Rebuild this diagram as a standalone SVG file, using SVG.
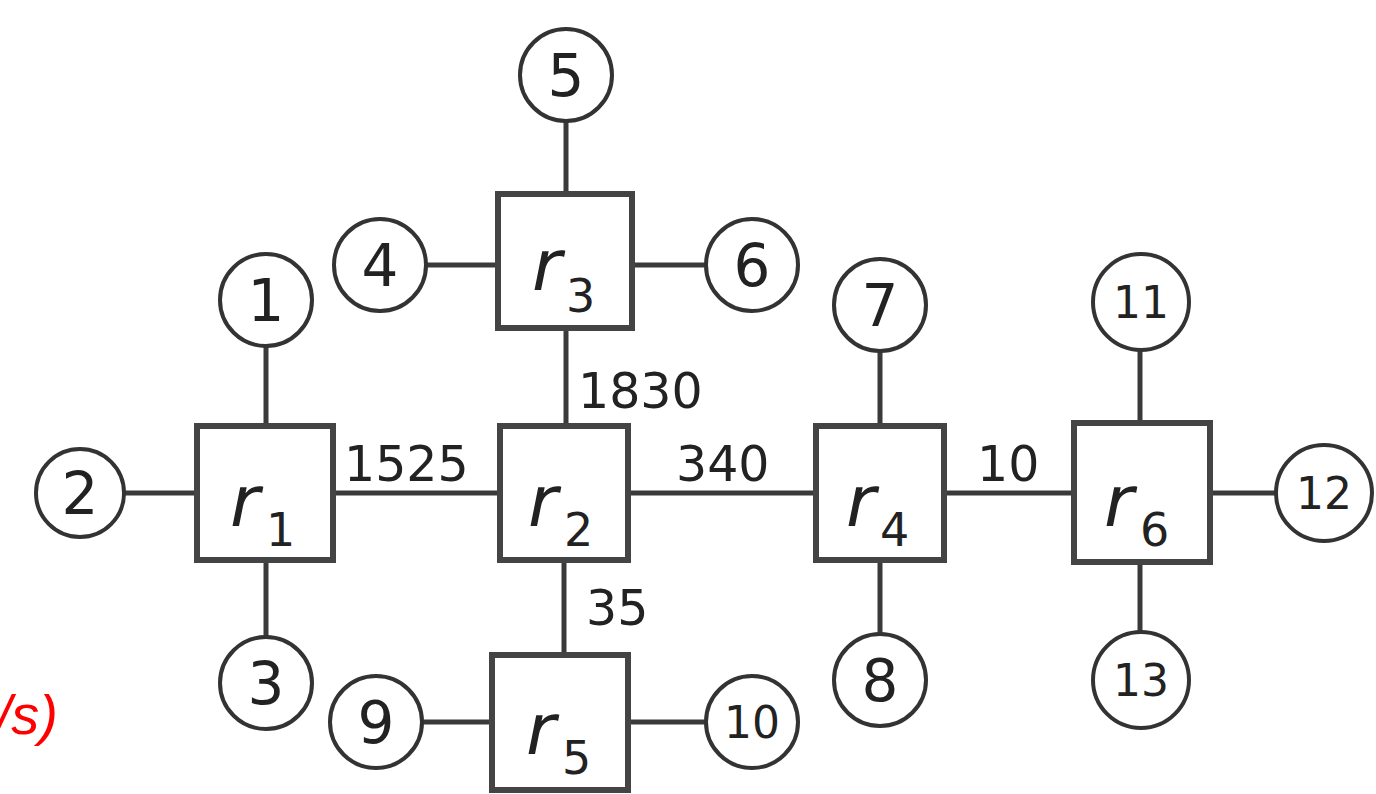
<svg xmlns="http://www.w3.org/2000/svg" width="1376" height="794" viewBox="0 0 1376 794">
  <style>
    .link { stroke: #3a3a3a; stroke-width: 5; fill: none; }
    .router rect { fill: #fff; stroke: #444; stroke-width: 6; }
    .host circle { fill: #fff; stroke: #333; stroke-width: 4; }
    .host text { font-family: "DejaVu Sans", sans-serif; font-size: 58px; fill: #222; text-anchor: middle; }
    .host text.small { font-size: 44px; }
    .rname { font-family: "DejaVu Sans", sans-serif; font-style: italic; font-size: 72px; fill: #222; }
    .rsub { font-family: "DejaVu Sans", sans-serif; font-size: 46px; fill: #222; }
    .cap { font-family: "DejaVu Sans", sans-serif; font-size: 49px; fill: #222; }
    .unit { font-family: "Liberation Sans", sans-serif; font-style: italic; font-size: 56px; fill: #ff0000; }
  </style>

  <!-- links -->
  <g id="connectors">
    <line class="link" x1="333" y1="493" x2="500" y2="493"/>
    <line class="link" x1="628" y1="493" x2="816" y2="493"/>
    <line class="link" x1="944" y1="493" x2="1074" y2="493"/>
    <line class="link" x1="566" y1="328" x2="566" y2="426"/>
    <line class="link" x1="564" y1="560" x2="564" y2="655"/>
    <line class="link" x1="266" y1="346" x2="266" y2="426"/>
    <line class="link" x1="124" y1="493" x2="197" y2="493"/>
    <line class="link" x1="266" y1="560" x2="266" y2="637"/>
    <line class="link" x1="426" y1="265" x2="498" y2="265"/>
    <line class="link" x1="566" y1="121" x2="566" y2="194"/>
    <line class="link" x1="632" y1="265" x2="706" y2="265"/>
    <line class="link" x1="880" y1="351" x2="880" y2="426"/>
    <line class="link" x1="880" y1="560" x2="880" y2="634"/>
    <line class="link" x1="422" y1="722" x2="492" y2="722"/>
    <line class="link" x1="628" y1="722" x2="706" y2="722"/>
    <line class="link" x1="1140" y1="346" x2="1140" y2="423"/>
    <line class="link" x1="1210" y1="493" x2="1276" y2="493"/>
    <line class="link" x1="1140" y1="562" x2="1140" y2="634"/>
    <!-- link capacities -->
    <text class="cap" x="344" y="481">1525</text>
    <text class="cap" x="676" y="481">340</text>
    <text class="cap" x="977" y="481">10</text>
    <text class="cap" x="578" y="408">1830</text>
    <text class="cap" x="586" y="625">35</text>
  </g>

  <!-- routers -->
  <g id="r1" class="router"><rect x="197" y="426" width="136" height="134"/><text class="rname" x="230" y="526">r</text><text class="rsub" x="266" y="546">1</text></g>
  <g id="r2" class="router"><rect x="500" y="426" width="128" height="134"/><text class="rname" x="528" y="526">r</text><text class="rsub" x="564" y="546">2</text></g>
  <g id="r3" class="router"><rect x="498" y="194" width="134" height="134"/><text class="rname" x="532" y="290">r</text><text class="rsub" x="566" y="312">3</text></g>
  <g id="r4" class="router"><rect x="816" y="426" width="128" height="134"/><text class="rname" x="846" y="526">r</text><text class="rsub" x="880" y="546">4</text></g>
  <g id="r5" class="router"><rect x="492" y="655" width="136" height="135"/><text class="rname" x="526" y="754">r</text><text class="rsub" x="562" y="774">5</text></g>
  <g id="r6" class="router"><rect x="1074" y="423" width="136" height="139"/><text class="rname" x="1104" y="526">r</text><text class="rsub" x="1140" y="546">6</text></g>

  <!-- hosts -->
  <g id="h1" class="host"><circle cx="266" cy="300" r="46"/><text x="266" y="321">1</text></g>
  <g id="h2" class="host"><circle cx="80" cy="493" r="44"/><text x="80" y="514">2</text></g>
  <g id="h3" class="host"><circle cx="266" cy="683" r="46"/><text x="266" y="704">3</text></g>
  <g id="h4" class="host"><circle cx="380" cy="265" r="46"/><text x="380" y="286">4</text></g>
  <g id="h5" class="host"><circle cx="566" cy="75" r="46"/><text x="566" y="96">5</text></g>
  <g id="h6" class="host"><circle cx="752" cy="265" r="46"/><text x="752" y="286">6</text></g>
  <g id="h7" class="host"><circle cx="880" cy="305" r="46"/><text x="880" y="326">7</text></g>
  <g id="h8" class="host"><circle cx="880" cy="680" r="46"/><text x="880" y="701">8</text></g>
  <g id="h9" class="host"><circle cx="376" cy="722" r="46"/><text x="376" y="743">9</text></g>
  <g id="h10" class="host"><circle cx="752" cy="722" r="46"/><text class="small" x="752" y="738">10</text></g>
  <g id="h11" class="host"><circle cx="1141" cy="302" r="48"/><text class="small" x="1141" y="318">11</text></g>
  <g id="h12" class="host"><circle cx="1324" cy="493" r="48"/><text class="small" x="1324" y="509">12</text></g>
  <g id="h13" class="host"><circle cx="1141" cy="680" r="48"/><text class="small" x="1141" y="696">13</text></g>

  <!-- unit label -->
  <text class="unit" x="58" y="734" text-anchor="end">/s)</text>
</svg>
